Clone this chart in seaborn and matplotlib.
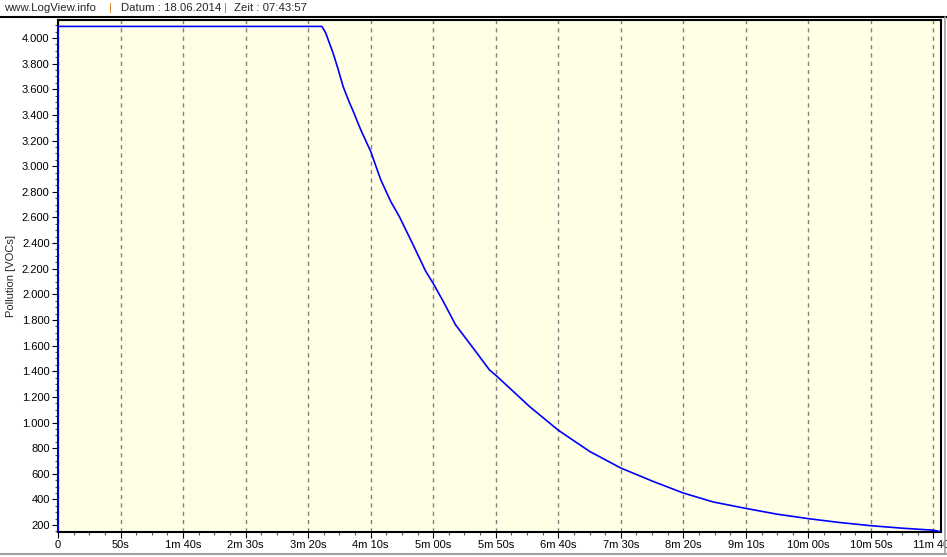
import matplotlib
matplotlib.use("Agg")
import matplotlib.pyplot as plt
import seaborn as sns
import pandas as pd
from matplotlib.lines import Line2D
from matplotlib.ticker import MultipleLocator, FuncFormatter

# values (time in s, pollution in VOCs)
seconds = [0, 0, 211, 214, 220, 224, 228, 232, 237, 242, 250, 258, 266, 273,
           284, 294, 300, 308, 318, 332, 345, 351, 377, 400, 425, 450, 476,
           500, 524, 550, 575, 600, 625, 650, 676, 700, 705]
pollution = [150, 4090, 4090, 4040, 3880, 3755, 3620, 3520, 3405, 3285, 3115,
             2895, 2725, 2605, 2385, 2180, 2085, 1945, 1760, 1580, 1410, 1360,
             1125, 940, 775, 645, 540, 450, 380, 330, 285, 250, 220, 195, 175,
             160, 150]

x_ticks = [0, 50, 100, 150, 200, 250, 300, 350, 400, 450, 500, 550, 600, 650, 700]
x_labels = ["0", "50s", "1m 40s", "2m 30s", "3m 20s", "4m 10s", "5m 00s",
            "5m 50s", "6m 40s", "7m 30s", "8m 20s", "9m 10s", "10m 00s",
            "10m 50s", "11m 40s"]

df = pd.DataFrame({"Time": seconds, "Pollution": pollution})

sns.set_style("ticks", rc={"axes.facecolor": "#FFFFE6"})
plt.rcParams["font.family"] = ["Liberation Sans", "DejaVu Sans"]

fig = plt.figure(figsize=(9.47, 5.57), dpi=100)
ax = fig.add_axes([58 / 947, 1 - 532 / 557, (941 - 58) / 947, (532 - 20) / 557])

# estimator=None keeps the raw logger samples (no averaging of the t=0 jump)
sns.lineplot(data=df, x="Time", y="Pollution", color="#0000FF", linewidth=1.2,
             sort=False, estimator=None, ax=ax)
ax.lines[0].set_clip_on(False)
ax.lines[0].set_zorder(3)

ax.set_xlim(0, 706)
ax.set_xticks(x_ticks)
ax.set_xticklabels(x_labels)
ax.xaxis.set_minor_locator(MultipleLocator(12.5))
ax.yaxis.set_major_locator(MultipleLocator(200))
ax.yaxis.set_minor_locator(MultipleLocator(50))
ax.yaxis.set_major_formatter(FuncFormatter(lambda v, p: f"{int(v):,}".replace(",", ".")))
ax.set_ylim(146, 4140)

ax.tick_params(axis="both", which="major", labelsize=8, length=4, width=0.8, pad=2, colors="black")
ax.tick_params(axis="both", which="minor", length=2.5, width=0.8, color="#555555")
ax.grid(axis="x", which="major", linestyle=(0, (3, 3)), color="#808080", linewidth=1)
ax.grid(axis="y", visible=False)
for s in ax.spines.values():
    s.set_color("black")
    s.set_linewidth(1.5)

ax.set_xlabel(None)
ax.set_ylabel("Pollution [VOCs]", fontsize=8, labelpad=4)

# header line
fs = 8.2
y_hdr = 1 - 8 / 557
fig.text(4 / 947, y_hdr, "www.LogView.info", fontsize=fs, va="center")
fig.text(109 / 947, y_hdr, "|", fontsize=fs, va="center", color="#E08020")
fig.text(121 / 947, y_hdr, "Datum : 18.06.2014", fontsize=fs, va="center")
fig.text(224 / 947, y_hdr, "|", fontsize=fs, va="center", color="#4090E0")
fig.text(234 / 947, y_hdr, "Zeit : 07:43:57", fontsize=fs, va="center")
fig.add_artist(Line2D([0, 1], [1 - 16.5 / 557] * 2, color="black", linewidth=1.5))
fig.add_artist(Line2D([0, 1], [1 - 554 / 557] * 2, color="#A0A0A0", linewidth=1.5))
fig.add_artist(Line2D([945 / 947] * 2, [1 - 554 / 557, 1 - 16.5 / 557], color="#A0A0A0", linewidth=1.2))

fig.savefig("out.png", dpi=100)
